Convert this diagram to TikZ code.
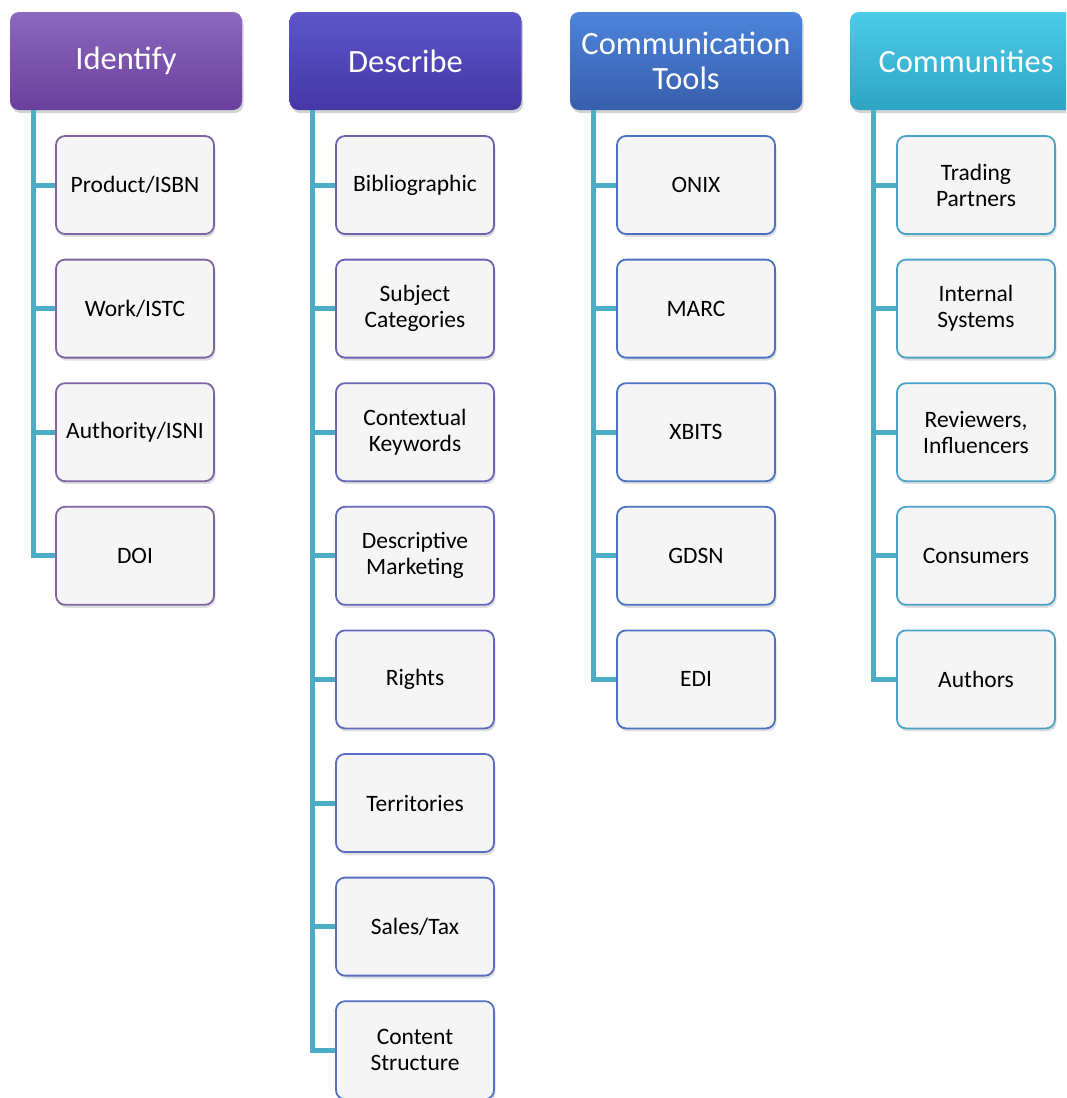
\documentclass[tikz,border=0pt]{standalone}
\usepackage{fontspec}
\setmainfont{Carlito}
\usetikzlibrary{shadows}
\definecolor{conncol}{HTML}{4BACC6}
\definecolor{boxfill}{HTML}{F5F5F5}
\definecolor{idtop}{HTML}{8C68BE}
\definecolor{idbot}{HTML}{6A3F9C}
\definecolor{detop}{HTML}{5C56CA}
\definecolor{debot}{HTML}{4637A6}
\definecolor{cotop}{HTML}{4C84DA}
\definecolor{cobot}{HTML}{385EAC}
\definecolor{cmtop}{HTML}{4CCCEA}
\definecolor{cmbot}{HTML}{2EA4C4}
\definecolor{idline}{HTML}{8064A2}
\definecolor{deA}{HTML}{7060B0}
\definecolor{deB}{HTML}{5670C4}
\definecolor{coline}{HTML}{4A72C2}
\definecolor{cmline}{HTML}{4BA2C8}
\tikzset{
  hdr/.style={rounded corners=9pt, minimum width=232pt, minimum height=98pt,
    text=white, align=center, font=\fontsize{32.5}{35}\selectfont, inner sep=0pt,
    drop shadow={opacity=0.35, shadow xshift=1.5pt, shadow yshift=-3pt}},
  leaf/.style={rounded corners=9pt, minimum width=158pt, minimum height=98pt,
    fill=boxfill, line width=1.8pt, align=center, inner sep=0pt,
    font=\fontsize{23.5}{26}\selectfont,
    drop shadow={opacity=0.25, shadow xshift=1.5pt, shadow yshift=-3pt}},
  conn/.style={conncol, line width=5pt}
}
\begin{document}
\begin{tikzpicture}[x=1pt,y=-1pt]
\useasboundingbox (0,0) rectangle (1066,1098);
\clip (0,0) rectangle (1066,1098);
% headers
\node[hdr, top color=idtop, bottom color=idbot] (h1) at (126,61) {Identify};
\node[hdr, top color=detop, bottom color=debot] (h2) at (405.5,61) {Describe};
\node[hdr, top color=cotop, bottom color=cobot] (h3) at (686,61) {Communication\\Tools};
\node[hdr, top color=cmtop, bottom color=cmbot] (h4) at (966,61) {Communities};
% connectors
\foreach \i in {1,...,4} \draw[conn] ([xshift=24pt]h1.south west) |- (135,{185+123.6*(\i-1)}) coordinate (a1\i);
\foreach \i in {1,...,8} \draw[conn] ([xshift=23pt]h2.south west) |- (415,{185+123.6*(\i-1)}) coordinate (a2\i);
\foreach \i in {1,...,5} \draw[conn] ([xshift=24pt]h3.south west) |- (696,{185+123.6*(\i-1)}) coordinate (a3\i);
\foreach \i in {1,...,5} \draw[conn] ([xshift=24pt]h4.south west) |- (976,{185+123.6*(\i-1)}) coordinate (a4\i);
% Identify
\foreach \t [count=\i] in {Product/ISBN, Work/ISTC, Authority/ISNI, DOI}
  \node[leaf, draw=idline] (c1\i) at (135,{185+123.6*(\i-1)}) {\t};
% Describe
\foreach \t [count=\i] in {Bibliographic, Subject\\Categories, Contextual\\Keywords, Descriptive\\Marketing, Rights, Territories, Sales/Tax, Content\\Structure}{
  \pgfmathtruncatemacro{\p}{100-(\i-1)*100/7}
  \colorlet{dcol}{deA!\p!deB}
  \node[leaf, draw=dcol] (c2\i) at (415,{185+123.6*(\i-1)}) {\t};
}
% Communication Tools
\foreach \t [count=\i] in {ONIX, MARC, XBITS, GDSN, EDI}
  \node[leaf, draw=coline] (c3\i) at (696,{185+123.6*(\i-1)}) {\t};
% Communities
\foreach \t [count=\i] in {Trading\\Partners, Internal\\Systems, {Reviewers,\\Influencers}, Consumers, Authors}
  \node[leaf, draw=cmline] (c4\i) at (976,{185+123.6*(\i-1)}) {\t};
\end{tikzpicture}
\end{document}
